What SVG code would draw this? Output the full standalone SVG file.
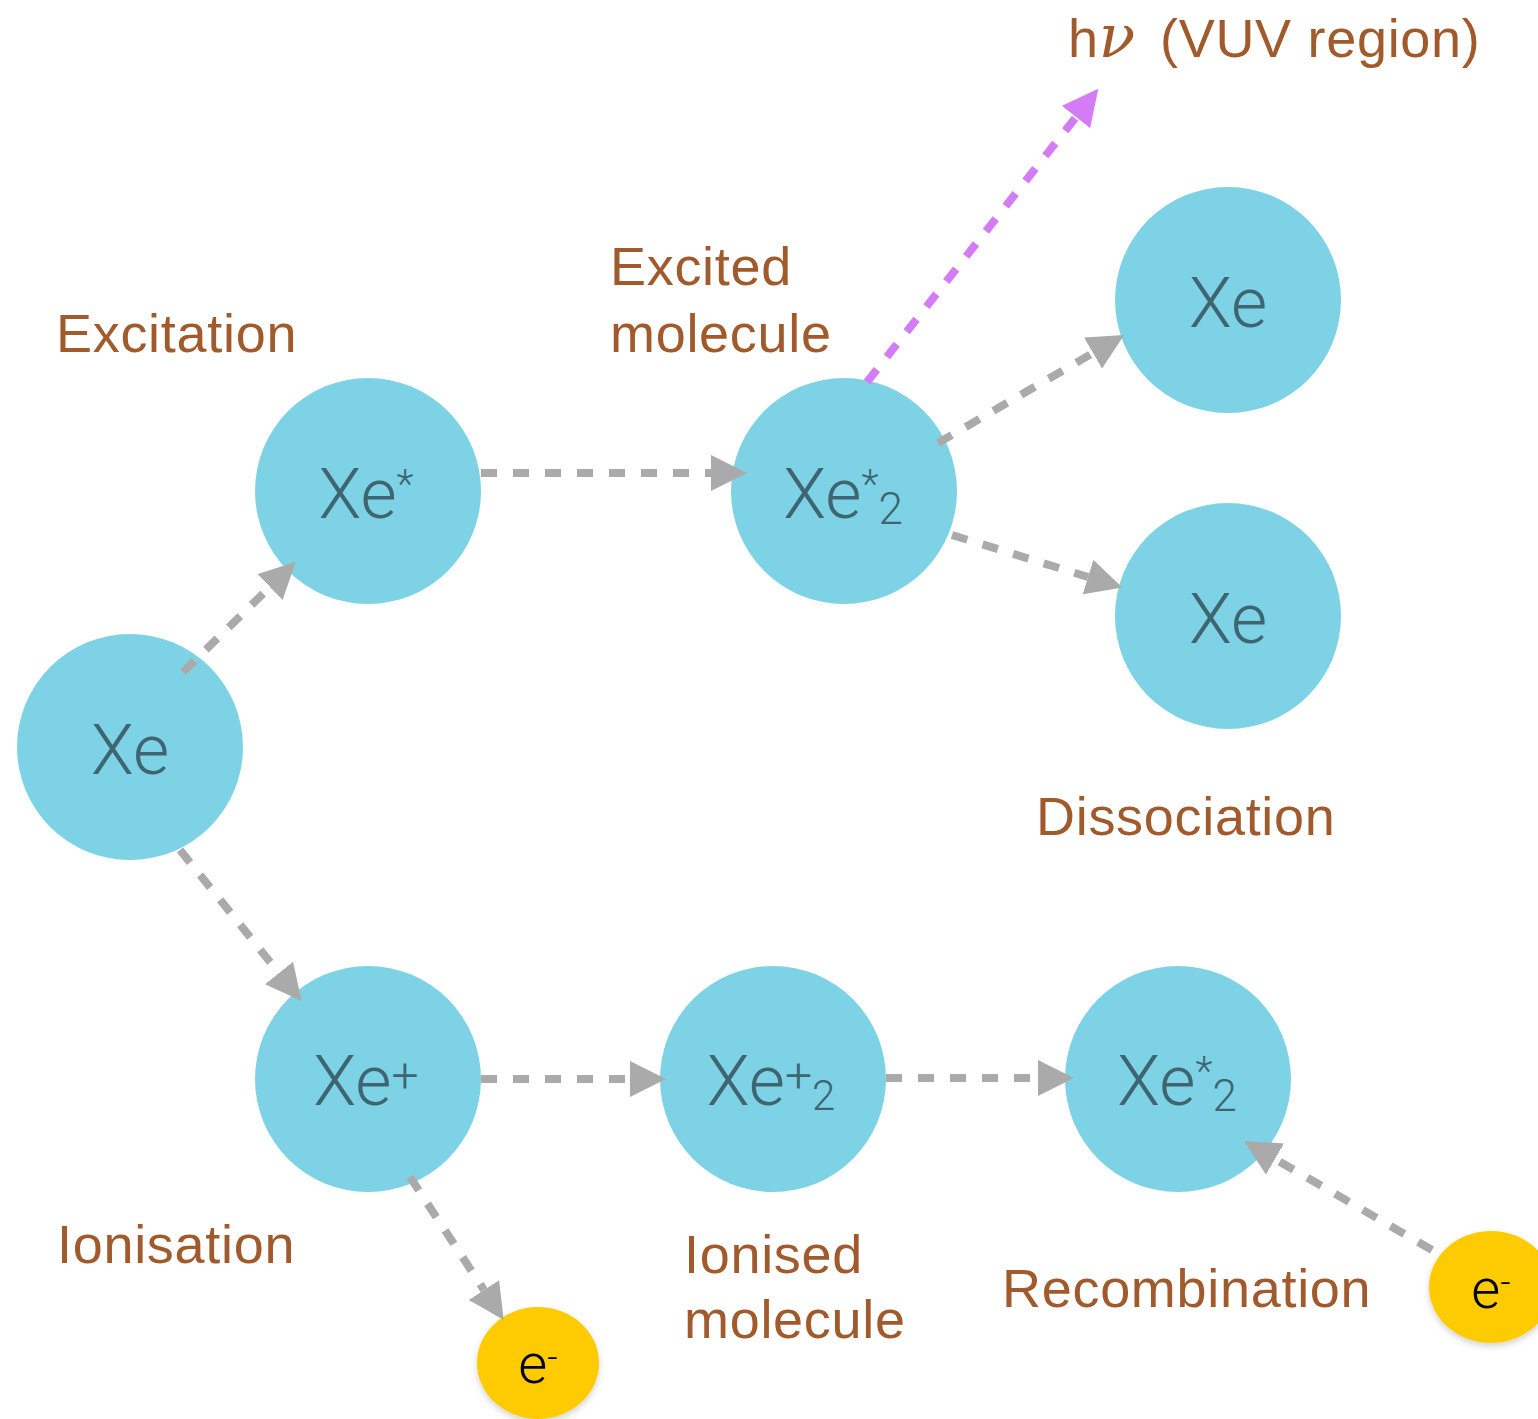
<svg xmlns="http://www.w3.org/2000/svg" width="1538" height="1419" viewBox="0 0 1538 1419">
<style>
.node{fill:#7dd3e5}
.elec{fill:#fecb00;filter:url(#sh)}
.nt{font-family:Roboto,"Liberation Sans",Arial,sans-serif;font-weight:300;font-size:70px;fill:#3e6570;text-anchor:middle}
.et{font-family:Roboto,"Liberation Sans",Arial,sans-serif;font-weight:300;font-size:56px;fill:#000;text-anchor:middle}
.lbl{font-family:"Liberation Sans",Arial,sans-serif;font-size:54px;letter-spacing:0.7px;fill:#a05a2c}
.c{stroke:#aaaaaa;stroke-width:8;stroke-dasharray:16 16;fill:none;marker-end:url(#ag)}
.cm{stroke:#d47cf5;stroke-width:8;stroke-dasharray:16 16;fill:none;marker-end:url(#am)}
</style>
<defs>
<marker id="ag" markerUnits="userSpaceOnUse" markerWidth="36" markerHeight="36" refX="0" refY="17.5" orient="auto" viewBox="0 0 35 35">
<path d="M0,0 L35,17.5 L0,35 Z" fill="#aaaaaa"/>
</marker>
<marker id="am" markerUnits="userSpaceOnUse" markerWidth="36" markerHeight="36" refX="0" refY="17.5" orient="auto" viewBox="0 0 35 35">
<path d="M0,0 L35,17.5 L0,35 Z" fill="#d47cf5"/>
</marker>
<filter id="sh" x="-20%" y="-20%" width="140%" height="150%">
<feDropShadow dx="0" dy="3" stdDeviation="3" flood-color="#000" flood-opacity="0.18"/>
</filter>
</defs>

<g id="node-xe">
<circle class="node" cx="130" cy="747" r="113"/>
<text class="nt" x="130" y="774">Xe</text>
</g>
<g id="node-xe-star">
<circle class="node" cx="368" cy="491" r="113"/>
<text class="nt" x="366" y="518">Xe<tspan font-size="40" dy="-20">*</tspan></text>
</g>
<g id="node-xe2-star">
<circle class="node" cx="844" cy="491" r="113"/>
<text class="nt" x="843" y="518">Xe<tspan font-size="40" dy="-20">*</tspan><tspan font-size="44" dy="26">2</tspan></text>
</g>
<g id="node-xe-a">
<circle class="node" cx="1228" cy="300" r="113"/>
<text class="nt" x="1228" y="327">Xe</text>
</g>
<g id="node-xe-b">
<circle class="node" cx="1228" cy="616" r="113"/>
<text class="nt" x="1228" y="643">Xe</text>
</g>
<g id="node-xe-plus">
<circle class="node" cx="368" cy="1079" r="113"/>
<text class="nt" x="366" y="1105">Xe<tspan font-size="48" dy="-13">+</tspan></text>
</g>
<g id="node-xe2-plus">
<circle class="node" cx="773" cy="1079" r="113"/>
<text class="nt" x="771" y="1105">Xe<tspan font-size="48" dy="-13">+</tspan><tspan font-size="42" dy="18">2</tspan></text>
</g>
<g id="node-xe2-star-b">
<circle class="node" cx="1178" cy="1079" r="113"/>
<text class="nt" x="1177" y="1105">Xe<tspan font-size="40" dy="-20">*</tspan><tspan font-size="44" dy="26">2</tspan></text>
</g>
<g id="node-e1">
<ellipse class="elec" cx="538" cy="1363" rx="61" ry="56"/>
<text class="et" x="538" y="1383">e<tspan font-size="36" dy="-13">-</tspan></text>
</g>
<g id="node-e2">
<ellipse class="elec" cx="1491" cy="1287" rx="62" ry="56"/>
<text class="et" x="1491" y="1308">e<tspan font-size="36" dy="-13">-</tspan></text>
</g>

<g id="connectors">
<line class="c" x1="183" y1="672" x2="270" y2="587"/>
<line class="c" x1="481" y1="473" x2="711" y2="473"/>
<line class="cm" x1="867" y1="382" x2="1076" y2="117"/>
<line class="c" x1="938" y1="443" x2="1093" y2="353"/>
<line class="c" x1="952" y1="535" x2="1088" y2="577"/>
<line class="c" x1="180" y1="850" x2="279" y2="973"/>
<line class="c" x1="481" y1="1079" x2="630" y2="1079"/>
<line class="c" x1="886" y1="1078" x2="1038" y2="1078"/>
<line class="c" x1="410" y1="1177" x2="484" y2="1290"/>
<line class="c" x1="1432" y1="1250" x2="1275" y2="1159"/>
</g>

<g id="labels">
<text class="lbl" x="1068" y="57">h<tspan font-family="'DejaVu Serif',serif" font-style="italic" font-size="60">ν</tspan><tspan x="1160">(VUV region)</tspan></text>
<text class="lbl" x="56" y="352">Excitation</text>
<text class="lbl" x="610" y="285">Excited</text>
<text class="lbl" x="610" y="352">molecule</text>
<text class="lbl" x="1036" y="835">Dissociation</text>
<text class="lbl" x="57" y="1263">Ionisation</text>
<text class="lbl" x="684" y="1273">Ionised</text>
<text class="lbl" x="684" y="1338">molecule</text>
<text class="lbl" x="1002" y="1307">Recombination</text>
</g>
</svg>
